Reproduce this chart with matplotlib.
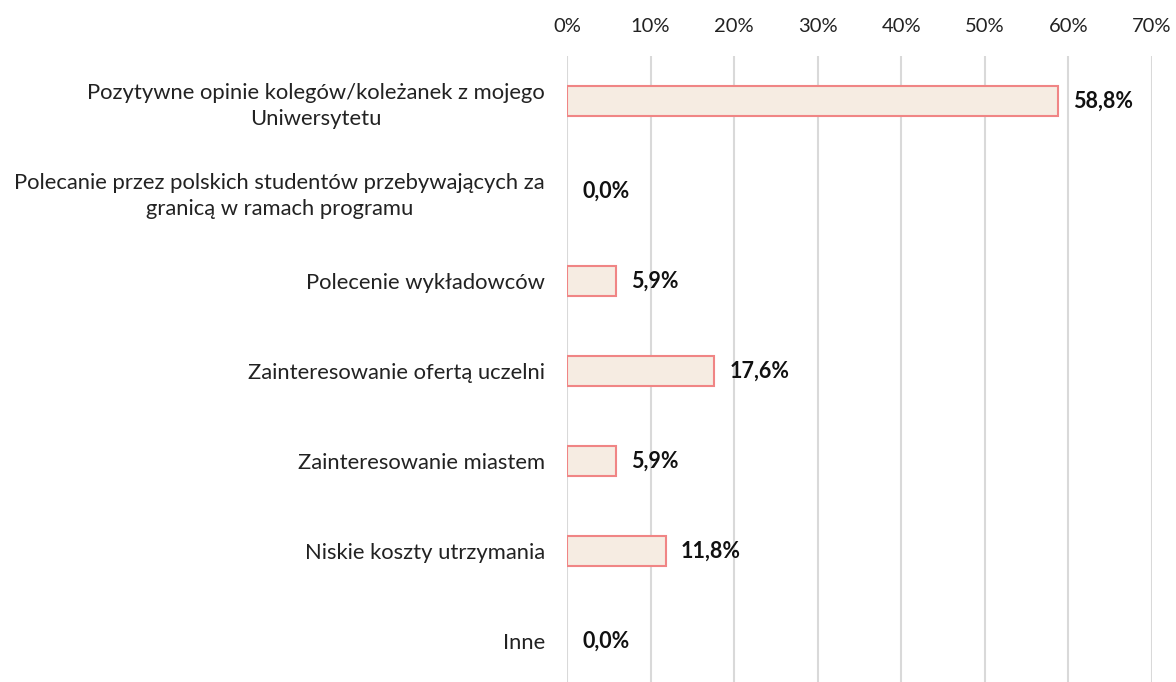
import matplotlib
matplotlib.use("Agg")
import matplotlib.pyplot as plt
from matplotlib.ticker import MultipleLocator, FuncFormatter

categories = [
    "Pozytywne opinie kolegów/koleżanek z mojego\nUniwersytetu",
    "Polecanie przez polskich studentów przebywających za\ngranicą w ramach programu",
    "Polecenie wykładowców",
    "Zainteresowanie ofertą uczelni",
    "Zainteresowanie miastem",
    "Niskie koszty utrzymania",
    "Inne",
]
values = [58.8, 0.0, 5.9, 17.6, 5.9, 11.8, 0.0]
labels = ["58,8%", "0,0%", "5,9%", "17,6%", "5,9%", "11,8%", "0,0%"]

plt.rcParams['font.family'] = ['Lato', 'DejaVu Sans']

fig = plt.figure(figsize=(11.76, 6.82), dpi=100)
ax = fig.add_axes([567/1176, -4/682, (1152-567)/1176, (686-56)/682])

y = list(range(len(categories)))
edges = ["#F08585" if v > 0 else "none" for v in values]
ax.barh(y, values, height=0.33, color="#F6ECE2", edgecolor=edges, linewidth=1.5, zorder=3)
for yi, v, lab in zip(y, values, labels):
    ax.text(v + 1.8, yi, lab, va="center", ha="left", fontsize=15.5, fontweight="bold", color="#111111", zorder=4)

ax.set_xlim(0, 70)
ax.set_ylim(len(categories) - 0.5, -0.5)
ax.set_yticks(y)
ax.set_yticklabels(categories, fontsize=15.8, color="#222222", linespacing=1.4)
for t in ax.get_yticklabels():
    t.set_multialignment("center")
ax.xaxis.set_major_locator(MultipleLocator(10))
ax.xaxis.set_major_formatter(FuncFormatter(lambda v, p: f"{int(round(v))}%"))
ax.xaxis.tick_top()
ax.tick_params(axis="x", labelsize=14.5, colors="#222222", length=0, pad=15)
ax.tick_params(axis="y", length=0, pad=16)
ax.grid(axis="x", color="#D9D9D9", linewidth=1.5, zorder=0)
for s in ax.spines.values():
    s.set_visible(False)

fig.savefig("out.png", dpi=100)
